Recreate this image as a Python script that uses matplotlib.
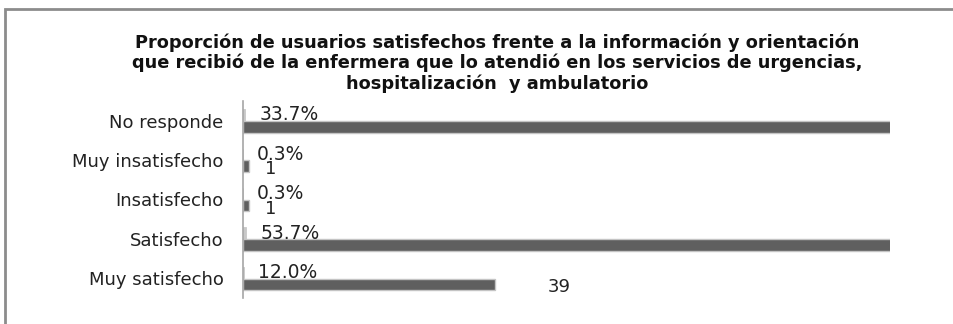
import matplotlib
matplotlib.use("Agg")
import matplotlib.pyplot as plt
from matplotlib.patches import Rectangle
import numpy as np

# data (bottom to top, as drawn)
categories = ["Muy satisfecho", "Satisfecho", "Insatisfecho", "Muy insatisfecho", "No responde"]
counts     = [39, 175, 1, 1, 110]
shares     = [0.120, 0.537, 0.003, 0.003, 0.337]
title = ("Proporción de usuarios satisfechos frente a la información y orientación\n"
         "que recibió de la enfermera que lo atendió en los servicios de urgencias,\n"
         "hospitalización  y ambulatorio")

DARK  = "#5f5f5f"
LIGHT = "#c8c8c8"
EDGE  = "#c4c4c4"

fig = plt.figure(figsize=(9.54, 3.24), dpi=100)
fig.patch.set_facecolor("white")

# outer chart frame (only top/left edges are inside the picture)
fig.add_artist(Rectangle((5.5 / 954, -0.2), 1.5, 1.2 - 8.5 / 324,
                         transform=fig.transFigure, fill=False,
                         edgecolor="#8c8c8c", linewidth=2))

ax = fig.add_axes([243 / 954, 1 - 298 / 324, 647 / 954, 197 / 324])

y = np.arange(len(categories))
h = 0.29
ax.barh(y + 0.145, shares, height=h, color=LIGHT, edgecolor=LIGHT, linewidth=0.6)
ax.barh(y - 0.155, counts, height=h, color=DARK, edgecolor=EDGE, linewidth=1.0)

ax.set_xlim(0, 100)
ax.set_ylim(-0.5, len(categories) - 0.5)
ax.set_yticks(y)
ax.set_yticklabels(categories, fontsize=13, color="#222222")
ax.tick_params(axis="y", length=0, pad=14)
ax.set_xticks([])
for s in ["top", "right", "bottom"]:
    ax.spines[s].set_visible(False)
ax.spines["left"].set_color("#a6a6a6")
ax.spines["left"].set_linewidth(1.2)

# percentage labels
for yi, v in zip(y, shares):
    ax.annotate(f"{v * 100:.1f}%", xy=(v, yi + 0.145), xytext=(14, 0),
                textcoords="offset pixels", ha="left", va="center",
                fontsize=13.5, color="#222222")

# count labels (ones beyond the axis end are not drawn)
for yi, c in zip(y, counts):
    dx = 52 if c > 10 else 16
    ax.annotate(f"{c}", xy=(c, yi - 0.155), xytext=(dx, -3),
                textcoords="offset pixels", ha="left", va="center",
                fontsize=13, color="#222222")

fig.text(497 / 954, 1 - 63 / 324, title, ha="center", va="center",
         fontsize=12.8, fontweight="bold", color="#111111", linespacing=1.15)

fig.savefig("out.png", dpi=100, facecolor="white")
